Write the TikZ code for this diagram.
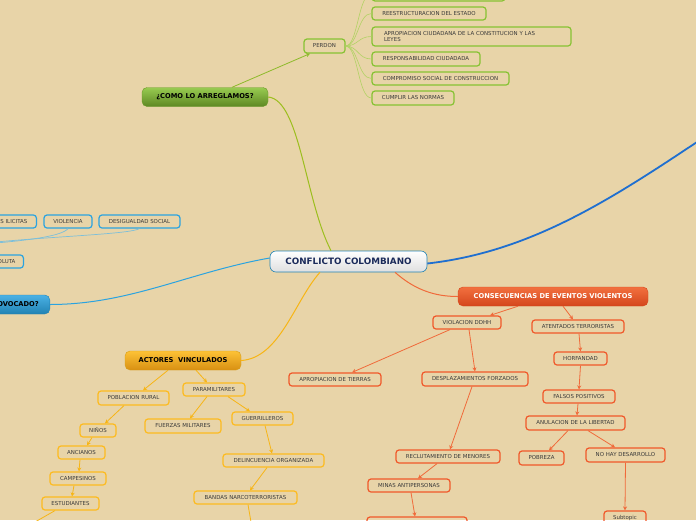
\documentclass[tikz,border=0pt]{standalone}
\usepackage{fontspec}
\setmainfont{DejaVu Sans}
\usetikzlibrary{arrows.meta}
\definecolor{bg}{HTML}{E8D4A8}
\definecolor{txt}{HTML}{3A3A3A}
\definecolor{grn}{HTML}{86C232}
\definecolor{grnline}{HTML}{B2D264}
\definecolor{grnmain}{HTML}{9CBE1E}
\definecolor{grnarr}{HTML}{8DBA2A}
\definecolor{org}{HTML}{F0582A}
\definecolor{orgtop}{HTML}{F2703F}
\definecolor{orgbot}{HTML}{D4461C}
\definecolor{orgline}{HTML}{F06A3A}
\definecolor{yel}{HTML}{FDBB1F}
\definecolor{yelline}{HTML}{F7B515}
\definecolor{blu}{HTML}{2AA3E0}
\definecolor{bluline}{HTML}{7CBFDA}
\definecolor{bludark}{HTML}{1F6FD0}
\definecolor{navy}{HTML}{1A2A5A}
\tikzset{
  wh/.style 2 args={minimum width=#1pt, minimum height=#2pt},
  sub/.style={draw, rounded corners=3pt, line width=1.2pt, inner sep=0pt, text=txt, font=\fontsize{5.45}{6.3}\selectfont},
  gsub/.style={sub, draw=grn},
  osub/.style={sub, draw=org},
  ysub/.style={sub, draw=yel},
  bsub/.style={sub, draw=blu},
  mainnode/.style={rounded corners=5pt, inner sep=0pt, font=\fontsize{6.7}{8}\selectfont\bfseries},
  arr/.style={line width=0.8pt, -{Stealth[length=4pt,width=4pt]}},
  oarr/.style={arr, draw=orgline},
  yarr/.style={arr, draw=yelline},
  fan/.style={draw=grnline, line width=0.6pt},
}
\begin{document}
\begin{tikzpicture}[x=1pt,y=-1pt]
\clip (0,0) rectangle (696,520);
\fill[bg] (0,0) rectangle (696,520);

% central
\node[rounded corners=6pt, draw=blu!80!black, line width=0.6pt, top color=white, bottom color=gray!25, wh={157}{21}, inner sep=0pt, text=navy, font=\fontsize{8.8}{9.5}\selectfont\bfseries] (central) at (348.5,261.5) {CONFLICTO COLOMBIANO};

% main nodes
\node[mainnode, top color=grn!85!white, bottom color=grn!70!black, draw=grn!80!black, line width=0.4pt, wh={126}{19}] (como) at (205,97) {¿COMO LO ARREGLAMOS?};
\node[mainnode, top color=orgtop, bottom color=orgbot, draw=orgbot, line width=0.4pt, text=white, wh={190}{19}] (cons) at (553,296.5) {CONSECUENCIAS DE EVENTOS VIOLENTOS};
\node[mainnode, top color=yel!90!white, bottom color=yel!70!orange!85!black, draw=yel!85!black, line width=0.4pt, wh={116}{19}] (actores) at (183,360.5) {ACTORES\ \ VINCULADOS};
\node[mainnode, top color=blu!85!white, bottom color=blu!80!black, draw=blu!80!black, line width=0.4pt, inner xsep=11pt, minimum height=19pt, anchor=east] (porque) at (50,304.5) {¿QUE LO HA PROVOCADO?};

% green branch
\node[gsub, wh={41}{14}] (perdon) at (324.5,46) {PERDON};
\node[gsub, wh={133}{14}] (gtop) at (438.5,-6) {};
\node[gsub, wh={114}{13}] (reest) at (429,13.5) {REESTRUCTURACION DEL ESTADO};
\node[gsub, text width=175pt, inner xsep=12pt, align=left, minimum height=19pt] (aprc) at (471.5,36.5) {APROPIACION CIUDADANA DE LA CONSTITUCION Y LAS\\LEYES};
\node[gsub, wh={108}{14}] (resp) at (426,59) {RESPONSABILIDAD CIUDADADA};
\node[gsub, wh={137}{13}] (comp) at (440.5,78.5) {COMPROMISO SOCIAL DE CONSTRUCCION};
\node[gsub, wh={82}{14}] (cumpl) at (413,98) {CUMPLIR LAS NORMAS};

% blue branch
\node[bsub, anchor=east, inner xsep=9pt, minimum height=13pt] (ilic) at (37,221.5) {ACTIVIDADES ILICITAS};
\node[bsub, wh={48}{13}] (viol2) at (68,221.5) {VIOLENCIA};
\node[bsub, wh={81}{13}] (desig) at (139.5,221.5) {DESIGUALDAD SOCIAL};
\node[bsub, anchor=east, inner xsep=8pt, minimum height=13pt] (absol) at (24,261.5) {POBREZA ABSOLUTA};
\coordinate (bhubA) at (-4,243);
\coordinate (bhubB) at (-4,242);

% orange branch
\node[osub, wh={68}{13}] (violdd) at (467,322.5) {VIOLACION DDHH};
\node[osub, wh={92}{13}] (aten) at (578,326.5) {ATENTADOS TERRORISTAS};
\node[osub, wh={53}{13}] (horf) at (580.5,358.5) {HORFANDAD};
\node[osub, wh={72}{13}] (fals) at (579,396.5) {FALSOS POSITIVOS};
\node[osub, wh={99}{14}] (anul) at (575.5,423) {ANULACION DE LA LIBERTAD};
\node[osub, wh={45}{14}] (pobr) at (541.5,458) {POBREZA};
\node[osub, wh={79}{14}] (nohay) at (625.5,455) {NO HAY DESARROLLO};
\node[osub, wh={42}{14}] (subt) at (625,518) {Subtopic};
\node[osub, wh={92}{13}] (aprt) at (335,379.5) {APROPIACION DE TIERRAS};
\node[osub, wh={106}{14}] (despl) at (475,379) {DESPLAZAMIENTOS FORZADOS};
\node[osub, wh={104}{13}] (reclut) at (448,456.5) {RECLUTAMIENTO DE MENORES};
\node[osub, wh={82}{13}] (minas) at (409,485.5) {MINAS ANTIPERSONAS};
\node[osub, wh={100}{14}] (obot) at (417,524) {};

% yellow branch
\node[ysub, wh={71}{14}] (pobl) at (133.5,398) {POBLACION RURAL};
\node[ysub, wh={62}{13}] (param) at (214,389.5) {PARAMILITARES};
\node[ysub, wh={76}{14}] (fuerz) at (183,426) {FUERZAS MILITARES};
\node[ysub, wh={61}{13}] (guerr) at (262.5,418.5) {GUERRILLEROS};
\node[ysub, wh={36}{13}] (ninos) at (98,430.5) {NIÑOS};
\node[ysub, wh={47}{13}] (anc) at (81.5,452.5) {ANCIANOS};
\node[ysub, wh={56}{13}] (camp) at (78,478.5) {CAMPESINOS};
\node[ysub, wh={57}{13}] (estud) at (70.5,503.5) {ESTUDIANTES};
\node[ysub, wh={101}{13}] (delin) at (273.5,460.5) {DELINCUENCIA ORGANIZADA};
\node[ysub, wh={103}{13}] (bandas) at (245.5,497.5) {BANDAS NARCOTERRORISTAS};
\coordinate (yoffA) at (35,522);
\coordinate (yoffB) at (251,522);

% main connectors
\draw[grnmain, line width=1pt] (como.east) .. controls (300,100) and (305,200) .. ([xshift=-17.5pt]central.north);
\draw[bludark, line width=1.8pt] ([yshift=-2pt]central.east) .. controls (530,252) and (610,200) .. (700,140);
\draw[blu, line width=1pt] ([yshift=3.5pt]central.west) .. controls (190,272) and (130,304.5) .. (porque.east);
\draw[yelline, line width=1pt] ([xshift=-28.5pt]central.south) .. controls (295,300) and (280,358) .. (actores.east);
\draw[orgline, line width=1pt] ([xshift=46.5pt]central.south) .. controls (415,290) and (435,296.5) .. (cons.west);

% green connectors
\draw[arr, draw=grnarr] ([xshift=27pt]como.north) -- ([xshift=-14.5pt]perdon.south);
\foreach \n in {gtop,reest,aprc,resp,comp,cumpl}
  \draw[fan] (perdon.east) .. controls (358,46) and (358,0|-\n.west) .. (\n.west);

% blue thin connectors
\draw[bluline, line width=0.7pt] (viol2.south) .. controls (62,236) and (30,240) .. (bhubA);
\draw[bluline, line width=0.7pt] (desig.south) .. controls (130,234) and (60,236) .. (bhubB);

% orange connectors
\draw[oarr] ([xshift=-35pt]cons.south) -- ([xshift=23pt]violdd.north);
\draw[oarr] ([xshift=10pt]cons.south) -- ([xshift=-5pt]aten.north);
\draw[oarr] ([xshift=-17pt]violdd.south) -- ([xshift=17pt]aprt.north);
\draw[oarr] ([xshift=2pt]violdd.south) -- ([xshift=0pt]despl.north);
\draw[oarr] ([xshift=-3pt]despl.south) -- ([xshift=2pt]reclut.north);
\draw[oarr] ([xshift=-11pt]reclut.south) -- ([xshift=9pt]minas.north);
\draw[oarr] ([xshift=2pt]minas.south) -- ([xshift=-2pt]obot.north);
\draw[oarr] ([xshift=1pt]aten.south) -- (horf.north);
\draw[oarr] (horf.south) -- (fals.north);
\draw[oarr] ([xshift=-1pt]fals.south) -- ([xshift=1.5pt]anul.north);
\draw[oarr] ([xshift=-7.5pt]anul.south) -- ([xshift=7.5pt]pobr.north);
\draw[oarr] ([xshift=12.5pt]anul.south) -- ([xshift=-10.5pt]nohay.north);
\draw[oarr] (nohay.south) -- (subt.north);

% yellow connectors
\draw[yarr] ([xshift=-15pt]actores.south) -- ([xshift=9.5pt]pobl.north);
\draw[yarr] ([xshift=13pt]actores.south) -- ([xshift=-7pt]param.north);
\draw[yarr] ([xshift=-7pt]param.south) -- ([xshift=7pt]fuerz.north);
\draw[yarr] ([xshift=14pt]param.south) -- ([xshift=-12.5pt]guerr.north);
\draw[yarr] ([xshift=-9.5pt]pobl.south) -- ([xshift=7pt]ninos.north);
\draw[yarr] ([xshift=-6pt]ninos.south) -- ([xshift=5.5pt]anc.north);
\draw[yarr] ([xshift=-1.5pt]anc.south) -- ([xshift=1pt]camp.north);
\draw[yarr] ([xshift=-4pt]camp.south) -- ([xshift=1.5pt]estud.north);
\draw[yelline, line width=0.8pt] ([xshift=-15.5pt]estud.south) -- (yoffA);
\draw[yarr] ([xshift=2.5pt]guerr.south) -- ([xshift=-1.5pt]delin.north);
\draw[yarr] ([xshift=-6.5pt]delin.south) -- ([xshift=4.5pt]bandas.north);
\draw[yelline, line width=0.8pt] ([xshift=2.5pt]bandas.south) -- (yoffB);
\end{tikzpicture}
\end{document}
